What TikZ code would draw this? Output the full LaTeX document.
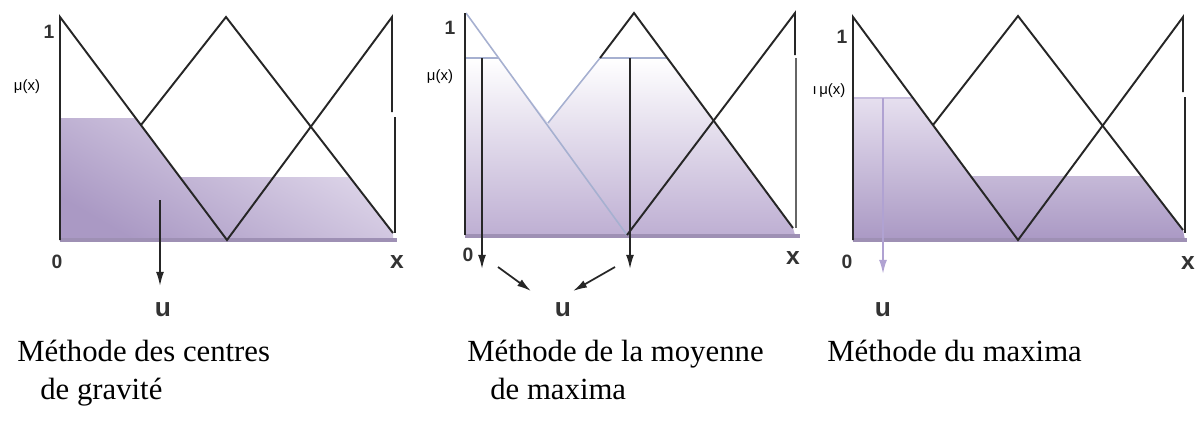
\documentclass[tikz,border=0pt]{standalone}
\usepackage{fontspec}
\setmainfont{Liberation Serif}
\setsansfont{Liberation Sans}
\usetikzlibrary{arrows.meta}

\definecolor{shadeDark}{RGB}{170,153,196}
\definecolor{shadeLight}{RGB}{230,223,239}
\definecolor{shadeMid}{RGB}{190,175,211}
\definecolor{basePurple}{RGB}{158,144,180}
\definecolor{blueGray}{RGB}{166,176,208}
\definecolor{lilac}{RGB}{176,162,210}

\begin{document}
\begin{tikzpicture}[
  x=0.02cm, y=-0.02cm,
  curve/.style={line width=1.1pt, black!85, line join=miter},
  faint/.style={line width=0.9pt, blueGray},
  baseband/.style={line width=2.4pt, basePurple},
  lab/.style={font=\sffamily\bfseries\fontsize{11}{12}\selectfont, inner sep=0pt, black!80},
  xlab/.style={font=\sffamily\bfseries\fontsize{14}{16}\selectfont, inner sep=0pt, black!80},
  ulab/.style={font=\sffamily\bfseries\fontsize{15}{17}\selectfont, inner sep=0pt, black!80},
  mulab/.style={font=\sffamily\fontsize{8.5}{9}\selectfont, inner sep=0pt},
  caption/.style={font=\fontsize{17.5}{20}\selectfont, anchor=base west, inner sep=0pt},
  outarrow/.style={-{Latex[length=8pt,width=4.5pt]}, line width=1pt, black!85},
  >=Latex
]
\useasboundingbox (0,0) rectangle (1199,437);

% --- centres de gravite
\path[top color=shadeLight, bottom color=shadeDark, shading angle=-30]
  (60,118) -- (136,118) -- (180,177) -- (349,177) -- (393,233) -- (393,240) -- (60,240) -- cycle;
\draw[baseband] (60,240) -- (397,240);
\draw[curve] (60,240) -- (60,17) -- (227,240) -- (392,17) -- (392,112);
\draw[curve] (395,117) -- (395,233);
\draw[curve] (141,125) -- (226,17) -- (393,233);

\coordinate (g1) at (160,200);
\coordinate (g1end) at (160,286);
\draw[outarrow] (g1) -- (g1end);

\node[lab] (one1) at (49,32) {1};
\node[mulab] (mu1) at (27,87) {μ(x)};
\node[lab] (zero1) at (57,262) {0};
\node[xlab] (x1) at (397,262) {x};
\node[ulab] (u1) at (163,310) {u};
\node[caption] (cap1a) at (17,361) {Méthode des centres};
\node[caption] (cap1b) at (40,399) {de gravité};

% --- moyenne de maxima
\path[top color=white, bottom color=shadeMid]
  (465,58) -- (498,58) -- (548,123) -- (600,58) -- (667,58) -- (793,228) -- (795,235) -- (465,235) -- cycle;
\draw[baseband] (465,236) -- (800,236);
\draw[faint] (466,13) -- (627,235);
\draw[faint] (548,123) -- (600,58);
\draw[faint] (465,58) -- (498,58);
\draw[faint] (600,58) -- (667,58);
\draw[curve] (465,235) -- (465,13);
\draw[curve] (600,58) -- (634,13) -- (793,228);
\draw[curve] (627,235) -- (795,13) -- (795,55);
\draw[curve, black!60, line width=0.9pt] (796,58) -- (796,228);

\coordinate (m2a) at (482,58);
\coordinate (m2aend) at (482,269);
\coordinate (m2b) at (630,58);
\coordinate (m2bend) at (630,269);
\coordinate (d2a) at (498,267);
\coordinate (d2aend) at (531,291);
\coordinate (d2b) at (615,267);
\coordinate (d2bend) at (573,291);
\draw[outarrow] (m2a) -- (m2aend);
\draw[outarrow] (m2b) -- (m2bend);
\draw[outarrow] (d2a) -- (d2aend);
\draw[outarrow] (d2b) -- (d2bend);

\node[lab] (one2) at (450,28) {1};
\node[mulab] (mu2) at (440,77) {μ(x)};
\node[lab] (zero2) at (468,255) {0};
\node[xlab] (x2) at (793,258) {x};
\node[ulab] (u2) at (563,310) {u};
\node[caption] (cap2a) at (467,361) {Méthode de la moyenne};
\node[caption] (cap2b) at (490,399) {de maxima};

% --- maxima
\path[top color=shadeLight, bottom color=shadeDark]
  (853,98) -- (913,98) -- (971,176) -- (1141,176) -- (1183,230) -- (1185,240) -- (853,240) -- cycle;
\draw[baseband] (853,240) -- (1187,240);
\draw[line width=0.9pt, lilac!70] (853,98) -- (913,98);
\draw[curve] (853,240) -- (853,17) -- (1018,240) -- (1183,17) -- (1183,92);
\draw[curve] (1185,97) -- (1185,233);
\draw[curve] (933,125) -- (1018,16) -- (1183,230);

\coordinate (p3) at (883,98);
\coordinate (p3end) at (883,274);
\draw[outarrow, lilac] (p3) -- (p3end);

\node[lab] (one3) at (842,37) {1};
\node[mulab] (mu3) at (829,91) {ı\,μ(x)};
\node[lab] (zero3) at (847,262) {0};
\node[xlab] (x3) at (1188,263) {x};
\node[ulab] (u3) at (883,310) {u};
\node[caption] (cap3a) at (827,361) {Méthode du maxima};
\end{tikzpicture}
\end{document}
